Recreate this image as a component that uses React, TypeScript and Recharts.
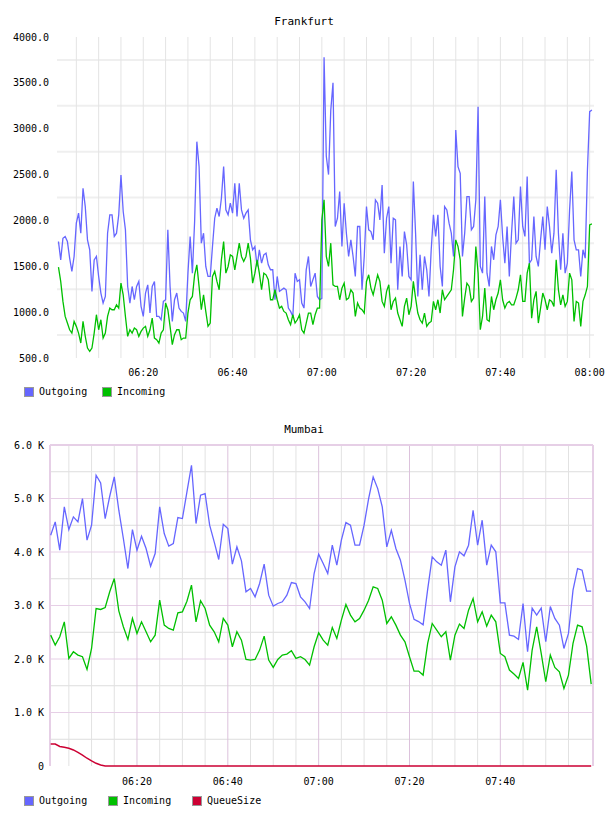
import { LineChart, Line, XAxis, YAxis, ReferenceLine } from "recharts";

const FONT = "'DejaVu Sans Mono', monospace";

// Frankfurt: one sample every 30 s, time in minutes after 06:00
const FRA_START = 1;
const FRA_STEP = 0.5;

const FRA_OUT = [
  1770, 1570, 1806, 1825, 1770, 1590, 1444, 1607, 1970, 2079,
  1861, 2351, 2151, 1788, 1680, 1226, 1570, 1607, 1389, 1208,
  1099, 1171, 1861, 2061, 2061, 1825, 1861, 2061, 2496, 2097,
  1897, 1280, 1099, 1280, 1135, 1280, 1335, 1063, 953, 1208,
  1298, 990, 1280, 1335, 953, 953, 917, 1117, 1135, 1897,
  1280, 899, 1135, 1208, 1044, 1008, 990, 899, 1425, 1825,
  1425, 1988, 2859, 2587, 1752, 1861, 1498, 1389, 1389, 1716,
  2024, 2133, 2043, 2242, 2587, 2115, 2061, 2188, 2079, 2406,
  2043, 2406, 2115, 2024, 2079, 2115, 1788, 1680, 1716, 1498,
  1680, 1534, 1625, 1643, 1516, 1462, 1462, 1135, 1389, 1226,
  1244, 1262, 1244, 1044, 1008, 953, 1425, 1335, 1353, 1099,
  1044, 1462, 1607, 1280, 1353, 1425, 1171, 1135, 1150, 3780,
  2700, 2500, 3200, 3500, 1934, 2024, 2315, 1716, 2188, 1861,
  1607, 1788, 1607, 1389, 1934, 1934, 1244, 1607, 2151, 1897,
  1879, 1788, 2224, 2188, 2006, 2387, 1643, 2024, 2151, 1534,
  2024, 2006, 1244, 1716, 1389, 1879, 1734, 1389, 1353, 2424,
  1861, 1171, 1625, 1244, 1607, 1462, 1171, 1680, 2061, 1825,
  2061, 1498, 1280, 2151, 2115, 1970, 1861, 1607, 2986, 2587,
  2514, 1607, 1861, 2260, 2260, 1897, 1934, 2224, 3240, 1498,
  1425, 2260, 1425, 1280, 1716, 1571, 1843, 1934, 2224, 1825,
  1534, 1934, 1389, 1861, 2260, 1752, 1788, 2369, 1934, 1825,
  2478, 1534, 1571, 2043, 1607, 1498, 1788, 2043, 1680, 2151,
  1934, 1643, 1861, 2551, 1861, 1462, 1861, 1425, 1534, 2115,
  2533, 1788, 1680, 1680, 1389, 1680, 1589, 2551, 3186, 3204,
];

const FRA_IN = [
  1490, 1335, 1117, 953, 881, 808, 772, 899, 845, 772,
  663, 899, 736, 609, 572, 609, 772, 972, 808, 917,
  717, 772, 953, 1044, 1026, 1026, 1080, 1044, 1316, 1189,
  953, 736, 808, 772, 826, 808, 736, 790, 826, 845,
  736, 808, 935, 717, 699, 663, 772, 808, 1099, 1026,
  845, 645, 754, 808, 808, 699, 717, 717, 990, 1135,
  1171, 1407, 1516, 1280, 1026, 1189, 1008, 845, 881, 1389,
  1444, 1335, 1244, 1571, 1770, 1425, 1498, 1625, 1607, 1462,
  1607, 1752, 1607, 1552, 1607, 1752, 1589, 1316, 1425, 1571,
  1425, 1244, 1425, 1407, 1353, 1135, 1135, 1244, 1135, 1044,
  1063, 1008, 990, 917, 863, 972, 881, 917, 972, 808,
  772, 881, 990, 990, 863, 972, 1044, 1044, 2006, 2224,
  1607, 1498, 1752, 1298, 1280, 1280, 1135, 1262, 1316, 1135,
  1153, 1244, 1208, 953, 1099, 1044, 1026, 990, 1335, 1407,
  1262, 1189, 1298, 1407, 1335, 1117, 1063, 1226, 1298, 1026,
  1117, 1153, 990, 917, 845, 1063, 1153, 972, 1063, 1335,
  1153, 990, 917, 881, 990, 845, 881, 899, 1117, 1026,
  1135, 990, 1244, 1135, 1171, 1208, 1244, 1462, 1788, 1716,
  1571, 953, 1153, 1316, 1280, 1117, 1153, 1716, 1425, 808,
  953, 1262, 917, 899, 1171, 1026, 1135, 1208, 1353, 1135,
  1044, 1099, 1117, 1080, 1080, 1153, 1244, 1407, 1117, 1117,
  1425, 1534, 935, 1135, 1226, 881, 1044, 1208, 1135, 1026,
  1135, 1117, 1063, 1571, 1244, 1080, 1189, 1063, 1117, 1425,
  1353, 899, 1117, 1099, 845, 1117, 1189, 1280, 1952, 1962,
];

const FRA_DOMAIN = [0.67, 120.97];
const FRA_XTICKS = [20, 40, 60, 80, 100, 120];
const FRA_YTICKS = [500, 1000, 1500, 2000, 2500, 3000, 3500, 4000];
const FRA_HGRID = [750, 1250, 1750, 2250, 2750, 3250, 3750];
const FRA_VGRID = [5, 10, 15, 20, 25, 30, 35, 40, 45, 50, 55, 60, 65, 70, 75, 80, 85, 90, 95, 100, 105, 110, 115, 120];

// Mumbai: one sample per minute
const MUM_START = 1;
const MUM_STEP = 1;

const MUM_OUT = [
  4314, 4563, 4034, 4843, 4420, 4656, 4563, 4999, 4221, 4501,
  5434, 5291, 4625, 5042, 5403, 4781, 4252, 3691, 4420, 4034,
  4295, 4065, 3735, 3972, 4843, 4345, 4109, 4158, 4644, 4625,
  5123, 5621, 4532, 5061, 5092, 4501, 4189, 3860, 4519, 4438,
  3772, 4096, 3835, 3256, 3318, 3162, 3411, 3772, 3193, 2988,
  3038, 3069, 3193, 3430, 3411, 3162, 3069, 2944, 3598, 3959,
  3785, 3598, 4127, 3754, 4221, 4550, 4501, 4127, 4127, 4501,
  4999, 5403, 5185, 4843, 4096, 4407, 4065, 3847, 3474, 3038,
  2740, 2700, 2640, 3300, 3909, 3816, 3754, 4034, 3069, 3723,
  4003, 3928, 4127, 4781, 4127, 4594, 3754, 4127, 4003, 3050,
  3050, 2446, 2428, 2366, 3038, 2135, 2950, 2820, 2950, 2322,
  2980, 2758, 2633, 2197, 2478, 3287, 3691, 3660, 3268, 3268,
];

const MUM_IN = [
  2446, 2260, 2415, 2695, 2011, 2135, 2073, 2042, 1805, 2197,
  2944, 2926, 2963, 3256, 3505, 2900, 2602, 2366, 2758, 2478,
  2695, 2509, 2322, 2446, 3100, 2633, 2571, 2540, 2864, 2882,
  3080, 3380, 2695, 3088, 2944, 2633, 2509, 2322, 2758, 2633,
  2229, 2509, 2353, 1992, 1980, 1992, 2166, 2428, 1980, 1843,
  1992, 2073, 2092, 2154, 2011, 2042, 1990, 1886, 2229, 2490,
  2353, 2260, 2590, 2384, 2727, 3019, 2820, 2695, 2758, 2913,
  3100, 3349, 3318, 3100, 2664, 2789, 2633, 2446, 2322, 2042,
  1774, 1774, 1699, 2291, 2664, 2540, 2415, 2509, 1980, 2446,
  2652, 2571, 2913, 3131, 2695, 2882, 2615, 2820, 2695, 2104,
  2042, 1793, 1718, 1637, 1936, 1419, 2166, 2602, 2104, 1575,
  2073, 1843, 1762, 1450, 1699, 2291, 2633, 2602, 2241, 1531,
];

const MUM_QUEUE = [
  410, 410, 365, 350, 330, 300, 255, 205, 145, 95,
  50, 20, 0, 0, 0, 0, 0, 0, 0, 0,
  0, 0, 0, 0, 0, 0, 0, 0, 0, 0,
  0, 0, 0, 0, 0, 0, 0, 0, 0, 0,
  0, 0, 0, 0, 0, 0, 0, 0, 0, 0,
  0, 0, 0, 0, 0, 0, 0, 0, 0, 0,
  0, 0, 0, 0, 0, 0, 0, 0, 0, 0,
  0, 0, 0, 0, 0, 0, 0, 0, 0, 0,
  0, 0, 0, 0, 0, 0, 0, 0, 0, 0,
  0, 0, 0, 0, 0, 0, 0, 0, 0, 0,
  0, 0, 0, 0, 0, 0, 0, 0, 0, 0,
  0, 0, 0, 0, 0, 0, 0, 0, 0, 0,
];

const MUM_DOMAIN = [0.85, 120.4];
const MUM_XTICKS = [20, 40, 60, 80, 100];
const MUM_YTICKS = [0, 1000, 2000, 3000, 4000, 5000, 6000];
const MUM_MAJOR_H = [1000, 2000, 3000, 4000, 5000, 6000];
const MUM_MINOR_H = [500, 1500, 2500, 3500, 4500, 5500];
const MUM_MAJOR_V = [20, 40, 60, 80, 100];
const MUM_MINOR_V = [5, 10, 15, 25, 30, 35, 45, 50, 55, 65, 70, 75, 85, 90, 95, 105, 110, 115];

const BLUE = "#6666ff";
const GREEN = "#00c000";
const RED = "#cc0033";
const PINK = "#e6cfe6";

const fraData = FRA_OUT.map((v, i) => ({ t: FRA_START + i * FRA_STEP, out: v, inc: FRA_IN[i] }));
const mumData = MUM_OUT.map((v, i) => ({ t: MUM_START + i * MUM_STEP, out: v, inc: MUM_IN[i], queue: MUM_QUEUE[i] }));

const pad = (n: number) => String(n).padStart(2, "0");
const fmtTime = (t: number) => {
  const m = Math.round(t);
  return `${pad(6 + Math.floor(m / 60))}:${pad(m % 60)}`;
};
const fmtK = (v: number) => (v === 0 ? "0" : `${(v / 1000).toFixed(1)} K`);

const tickStyle = { fill: "#000", fontSize: 10, fontFamily: FONT };

function LegendItem({ color, label, left }: { color: string; label: string; left: number }) {
  return (
    <div style={{ position: "absolute", left, top: 0, display: "flex", alignItems: "center" }}>
      <div style={{ width: 8, height: 8, background: color, border: "1px solid #999" }} />
      <span style={{ marginLeft: 5, fontSize: 10, fontFamily: FONT, lineHeight: "10px" }}>{label}</span>
    </div>
  );
}

export default function App() {
  return (
    <div style={{ position: "absolute", left: 0, top: 0, width: 608, height: 816, background: "#fff", fontFamily: FONT }}>
      <div style={{ position: "absolute", top: 15, width: 608, textAlign: "center", fontSize: 11 }}>Frankfurt</div>
      <div style={{ position: "absolute", top: 0, left: 0 }}>
        <LineChart width={608} height={400} data={fraData} margin={{ top: 37, right: 14, left: 0, bottom: 0 }}>
          {FRA_HGRID.map((v) => (
            <ReferenceLine key={"h" + v} y={v} stroke="#efefef" strokeWidth={2} />
          ))}
          {FRA_VGRID.map((v) => (
            <ReferenceLine key={"v" + v} x={v} stroke="#e4e4e4" />
          ))}
          <XAxis
            dataKey="t"
            type="number"
            domain={FRA_DOMAIN}
            ticks={FRA_XTICKS}
            interval={0}
            tickFormatter={fmtTime}
            axisLine={false}
            tickLine={false}
            tick={tickStyle}
            tickMargin={5}
            height={42}
          />
          <YAxis
            domain={[500, 4000]}
            ticks={FRA_YTICKS}
            interval={0}
            tickFormatter={(v: number) => v.toFixed(1)}
            axisLine={false}
            tickLine={false}
            tick={tickStyle}
            width={57}
          />
          <Line type="linear" dataKey="out" stroke={BLUE} strokeWidth={1.3} dot={false} isAnimationActive={false} />
          <Line type="linear" dataKey="inc" stroke={GREEN} strokeWidth={1.3} dot={false} isAnimationActive={false} />
        </LineChart>
      </div>
      <div style={{ position: "absolute", top: 387, left: 0 }}>
        <LegendItem color={BLUE} label="Outgoing" left={24} />
        <LegendItem color={GREEN} label="Incoming" left={102} />
      </div>

      <div style={{ position: "absolute", top: 423, width: 608, textAlign: "center", fontSize: 11 }}>Mumbai</div>
      <div style={{ position: "absolute", top: 400, left: 0 }}>
        <LineChart width={608} height={416} data={mumData} margin={{ top: 45, right: 15, left: 0, bottom: 0 }}>
          {MUM_MINOR_H.map((v) => (
            <ReferenceLine key={"mh" + v} y={v} stroke="#dddddd" />
          ))}
          {MUM_MINOR_V.map((v) => (
            <ReferenceLine key={"mv" + v} x={v} stroke="#e2e2e2" />
          ))}
          {MUM_MAJOR_H.map((v) => (
            <ReferenceLine key={"Mh" + v} y={v} stroke={PINK} />
          ))}
          {MUM_MAJOR_V.map((v) => (
            <ReferenceLine key={"Mv" + v} x={v} stroke="#dcc2dc" />
          ))}
          <ReferenceLine x={MUM_DOMAIN[0]} stroke={PINK} strokeWidth={2} />
          <ReferenceLine x={MUM_DOMAIN[1]} stroke={PINK} strokeWidth={2} />
          <ReferenceLine y={6000} stroke={PINK} strokeWidth={2} />
          <XAxis
            dataKey="t"
            type="number"
            domain={MUM_DOMAIN}
            ticks={MUM_XTICKS}
            interval={0}
            tickFormatter={fmtTime}
            axisLine={false}
            tickLine={false}
            tick={tickStyle}
            tickMargin={6}
            height={50}
          />
          <YAxis
            domain={[0, 6000]}
            ticks={MUM_YTICKS}
            interval={0}
            tickFormatter={fmtK}
            axisLine={false}
            tickLine={false}
            tick={tickStyle}
            tickMargin={0}
            width={50}
          />
          <Line type="linear" dataKey="out" stroke={BLUE} strokeWidth={1.3} dot={false} isAnimationActive={false} />
          <Line type="linear" dataKey="inc" stroke={GREEN} strokeWidth={1.3} dot={false} isAnimationActive={false} />
          <Line type="linear" dataKey="queue" stroke={RED} strokeWidth={1.5} dot={false} isAnimationActive={false} />
        </LineChart>
      </div>
      <div style={{ position: "absolute", top: 796, left: 0 }}>
        <LegendItem color={BLUE} label="Outgoing" left={24} />
        <LegendItem color={GREEN} label="Incoming" left={108} />
        <LegendItem color={RED} label="QueueSize" left={192} />
      </div>
    </div>
  );
}
